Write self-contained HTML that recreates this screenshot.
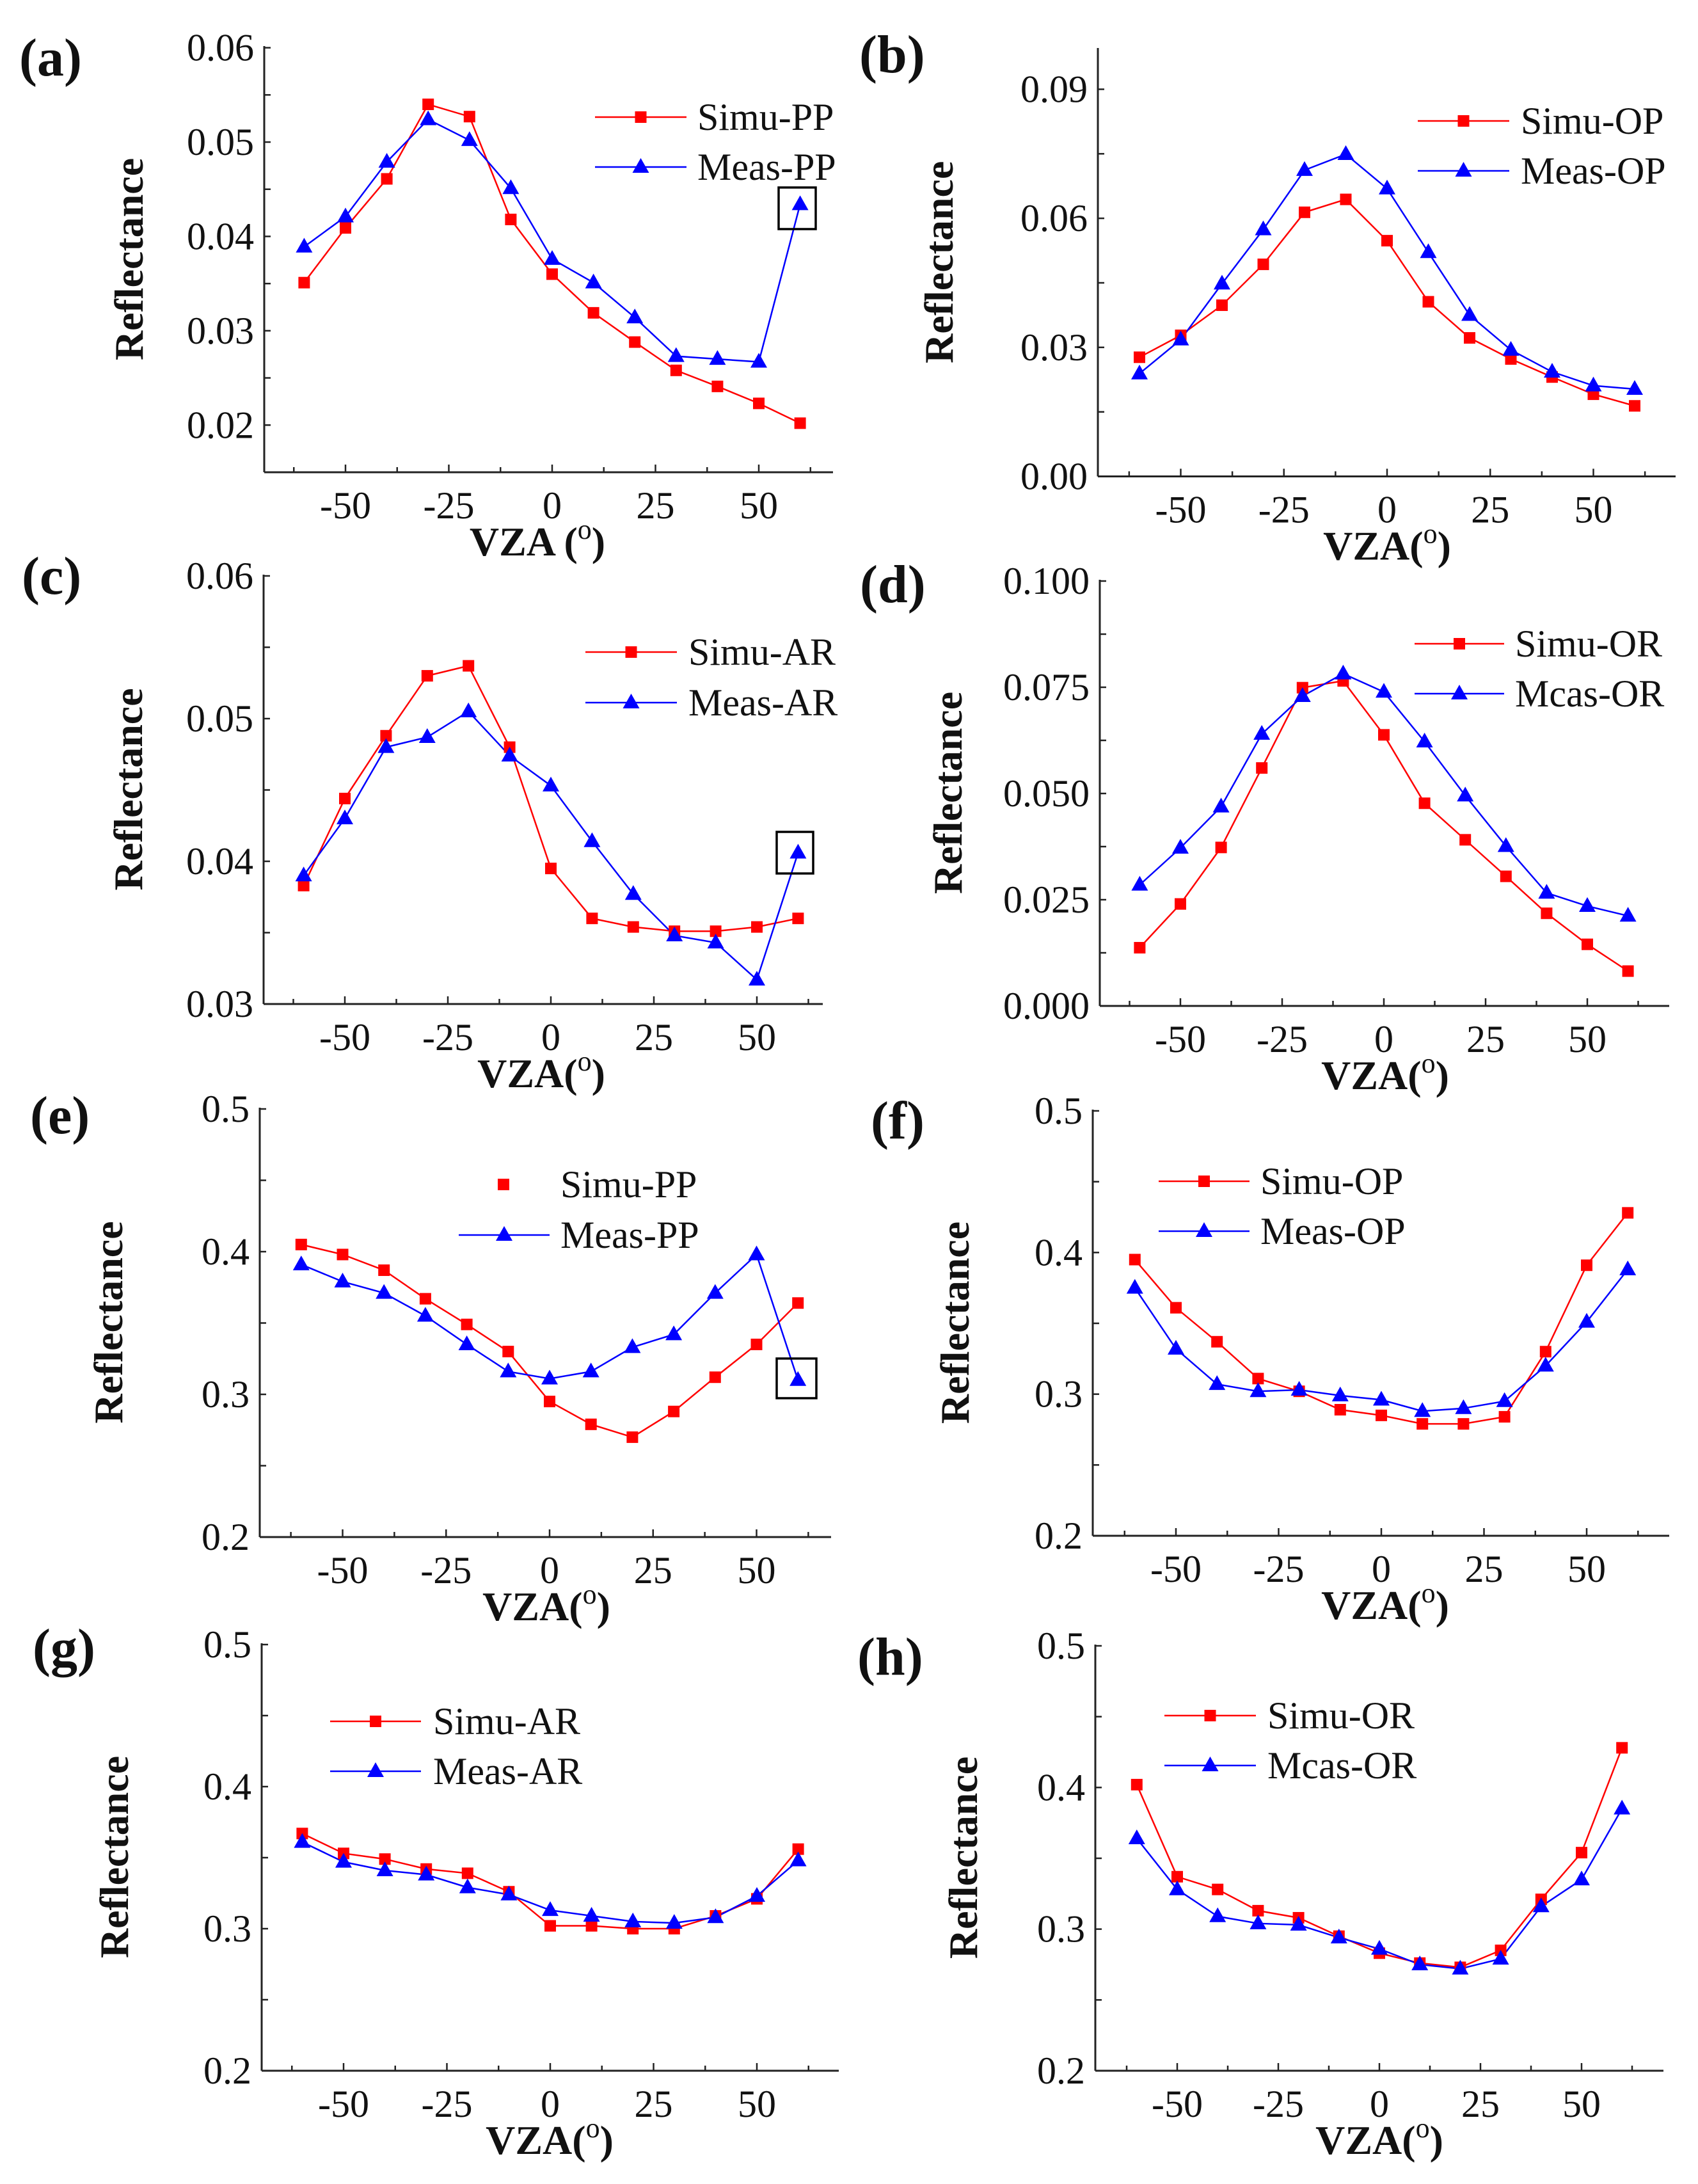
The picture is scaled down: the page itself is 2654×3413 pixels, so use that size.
<!DOCTYPE html>
<html><head><meta charset="utf-8">
<style>
html,body{margin:0;padding:0;background:#fff;}
svg{display:block;}
text{font-family:"Liberation Serif",serif;fill:#111;}
</style></head>
<body>
<svg id="chart" width="2654" height="3413" viewBox="0 0 2654 3413" xmlns="http://www.w3.org/2000/svg"></svg>
<script>
const vza = [-60,-50,-40,-30,-20,-10,0,10,20,30,40,50,60];
const xTicks = [-50,-25,0,25,50];
// panel series values
const simuA = [0.0351,0.0409,0.0461,0.0540,0.0527,0.0418,0.0360,0.0319,0.0288,0.0258,0.0241,0.0223,0.0202];
const measA = [0.0389,0.0421,0.0479,0.0524,0.0502,0.0451,0.0376,0.0351,0.0314,0.0273,0.0270,0.0267,0.0434];
const simuB = [0.0277,0.0328,0.0398,0.0493,0.0614,0.0644,0.0548,0.0406,0.0322,0.0273,0.0231,0.0191,0.0164];
const measB = [0.0239,0.0318,0.0448,0.0574,0.0712,0.0749,0.0669,0.0521,0.0375,0.0294,0.0243,0.0211,0.0203];
const simuC = [0.0383,0.0444,0.0488,0.0530,0.0537,0.0480,0.0395,0.0360,0.0354,0.0351,0.0351,0.0354,0.0360];
const measC = [0.0390,0.0430,0.0480,0.0487,0.0505,0.0474,0.0453,0.0414,0.0377,0.0348,0.0343,0.0317,0.0406];
const simuD = [0.0137,0.0240,0.0373,0.0560,0.0749,0.0765,0.0638,0.0477,0.0391,0.0305,0.0218,0.0145,0.0082];
const measD = [0.0285,0.0372,0.0469,0.0640,0.0729,0.0782,0.0739,0.0622,0.0495,0.0376,0.0266,0.0235,0.0212];
const simuE = [0.405,0.398,0.387,0.367,0.349,0.330,0.295,0.279,0.270,0.288,0.312,0.335,0.364];
const measE = [0.391,0.379,0.371,0.355,0.335,0.316,0.311,0.316,0.333,0.342,0.371,0.398,0.310];
const simuF = [0.395,0.361,0.337,0.311,0.302,0.289,0.285,0.279,0.279,0.284,0.330,0.391,0.428];
const measF = [0.375,0.332,0.307,0.302,0.303,0.299,0.296,0.288,0.290,0.295,0.320,0.351,0.388];
const simuG = [0.367,0.353,0.349,0.342,0.339,0.326,0.302,0.302,0.300,0.300,0.309,0.321,0.356];
const measG = [0.361,0.347,0.341,0.338,0.329,0.324,0.313,0.309,0.305,0.304,0.308,0.323,0.348];
const simuH = [0.402,0.337,0.328,0.313,0.308,0.295,0.283,0.276,0.273,0.285,0.321,0.354,0.428];
const measH = [0.364,0.328,0.309,0.304,0.303,0.294,0.286,0.275,0.272,0.279,0.316,0.335,0.385];
// tick labels
const yTicksA = ["0.02","0.03","0.04","0.05","0.06"];
const yTicksB = ["0.00","0.03","0.06","0.09"];
const yTicksC = ["0.03","0.04","0.05","0.06"];
const yTicksD = ["0.000","0.025","0.050","0.075","0.100"];
const yTicksE = ["0.2","0.3","0.4","0.5"];
const legendA = ["Simu-PP","Meas-PP"];
const legendB = ["Simu-OP","Meas-OP"];
const legendC = ["Simu-AR","Meas-AR"];
const legendD = ["Simu-OR","Mcas-OR"];

const panels = [
 {id:'a',simu:simuA,meas:measA,yt:yTicksA,ymin:0.015,ymax:0.06,yMinor:0.005,ax:{x0:413,x1:1302,yb:738,yt:74.6,z0:863,px50:323},yTop:72,
  leg:legendA,lg:{l0:930,l1:1073,tx:1090,y1:183,y2:261,simuLine:true},box:[1217,293,58,65],lab:[30,118],rx:201,xl:'VZA (',xlx:840},
 {id:'b',simu:simuB,meas:measB,yt:yTicksB,ymin:0,ymax:0.1,yMinor:0.015,ax:{x0:1716,x1:2619,yb:744.5,yt:139.5,ytv:0.09,z0:2168,px50:322.5},yTop:75,
  leg:legendB,lg:{l0:2216,l1:2359,tx:2377,y1:189,y2:267,simuLine:true},lab:[1343,113],rx:1467,xl:'VZA(',xlx:2168},
 {id:'c',simu:simuC,meas:measC,yt:yTicksC,ymin:0.03,ymax:0.06,yMinor:0.005,ax:{x0:412,x1:1286,yb:1569,yt:900,z0:861,px50:322},yTop:898,
  leg:legendC,lg:{l0:915,l1:1058,tx:1076,y1:1019,y2:1098,simuLine:true},box:[1214,1300,57,65],lab:[34,928],rx:200,xl:'VZA(',xlx:846},
 {id:'d',simu:simuD,meas:measD,yt:yTicksD,ymin:0,ymax:0.1,yMinor:0.0125,ax:{x0:1719,x1:2609,yb:1572,yt:908,z0:2163,px50:318},yTop:906,
  leg:legendD,lg:{l0:2211,l1:2351,tx:2368,y1:1006,y2:1084,simuLine:true},lab:[1344,941],rx:1481,xl:'VZA(',xlx:2165},
 {id:'e',simu:simuE,meas:measE,yt:yTicksE,ymin:0.2,ymax:0.5,yMinor:0.05,ax:{x0:406,x1:1299,yb:2402,yt:1733,z0:859,px50:323.5},yTop:1731,
  leg:legendA,lg:{l0:717,l1:859,tx:876,y1:1851,y2:1930,simuLine:false,sx:787},box:[1214,2123,62,62],lab:[47,1771],rx:169,xl:'VZA(',xlx:854},
 {id:'f',simu:simuF,meas:measF,yt:yTicksE,ymin:0.2,ymax:0.5,yMinor:0.05,ax:{x0:1708,x1:2609,yb:2400,yt:1736,z0:2159,px50:321},yTop:1734,
  leg:legendB,lg:{l0:1811,l1:1953,tx:1970,y1:1846,y2:1924,simuLine:true},lab:[1361,1779],rx:1492,xl:'VZA(',xlx:2165},
 {id:'g',simu:simuG,meas:measG,yt:yTicksE,ymin:0.2,ymax:0.5,yMinor:0.05,ax:{x0:409,x1:1311,yb:3236,yt:2570,z0:860,px50:323},yTop:2568,
  leg:legendC,lg:{l0:516,l1:658,tx:677,y1:2690,y2:2768,simuLine:true},lab:[51,2603],rx:178,xl:'VZA(',xlx:859},
 {id:'h',simu:simuH,meas:measH,yt:yTicksE,ymin:0.2,ymax:0.5,yMinor:0.05,ax:{x0:1712,x1:2600,yb:3236,yt:2572,z0:2156,px50:316},yTop:2570,
  leg:legendD,lg:{l0:1820,l1:1963,tx:1981,y1:2681,y2:2759,simuLine:true},lab:[1340,2617],rx:1505,xl:'VZA(',xlx:2156}
];

const NS='http://www.w3.org/2000/svg';
const svg=document.getElementById('chart');
function mk(tag,attrs,parent,txt){const e=document.createElementNS(NS,tag);for(const k in attrs)e.setAttribute(k,attrs[k]);if(txt!==undefined)e.textContent=txt;(parent||svg).appendChild(e);return e;}
function sq(g,x,y){const e=mk('rect',{x:x-9,y:y-9,width:18,height:18,fill:'#ff0000'},g);return e;}
function tri(g,x,y){const e=mk('polygon',{points:`${x},${y-14} ${x-13},${y+9} ${x+13},${y+9}`,fill:'#0000ff'},g);return e;}

panels.forEach(p=>{
  const A=p.ax;
  const topVal = A.ytv!==undefined ? A.ytv : p.ymax;
  const lowVal = p.ymin;
  const yScale=v=>A.yb-(v-lowVal)/(topVal-lowVal)*(A.yb-A.yt);
  const xScale=v=>A.z0+v/50*A.px50;
  const g=mk('g',{});
  
  
  const ya=mk('line',{x1:A.x0,y1:p.yTop,x2:A.x0,y2:A.yb,stroke:'#222','stroke-width':3},g);
  
  
  const xa=mk('line',{x1:A.x0,y1:A.yb,x2:A.x1,y2:A.yb,stroke:'#222','stroke-width':3},g);
  
  
  for(let v=-62.5;v<=62.5;v+=12.5){
    const x=xScale(v);
    if(x<=A.x0+2||x>A.x1)continue;
    mk('line',{x1:x,y1:A.yb,x2:x,y2:A.yb-(Math.abs(v%25)<0.01?12:8),stroke:'#222','stroke-width':2.5},g);
  }
  xTicks.forEach(v=>{
    const t=mk('text',{x:xScale(v),y:A.yb+72,'text-anchor':'middle','font-size':60},g,String(v));
    
    
  });
  for(let v=lowVal;v<=p.ymax+1e-9;v+=p.yMinor){
    const y=yScale(v);
    if(y<p.yTop-1)continue;
    mk('line',{x1:A.x0,y1:y,x2:A.x0+10,y2:y,stroke:'#222','stroke-width':2.5},g);
  }
  p.yt.forEach(s=>{
    const t=mk('text',{x:A.x0-16,y:yScale(parseFloat(s))+20,'text-anchor':'end','font-size':60},g,s);
    
    
  });
  const simuPts=vza.map((v,i)=>xScale(v)+','+yScale(p.simu[i])).join(' ');
  const measPts=vza.map((v,i)=>xScale(v)+','+yScale(p.meas[i])).join(' ');
  const sl=mk('polyline',{points:simuPts,fill:'none',stroke:'#ff0000','stroke-width':2.5},g);
  
  
  const ml=mk('polyline',{points:measPts,fill:'none',stroke:'#0000ff','stroke-width':2.5},g);
  
  
  vza.forEach((v,i)=>{
    const m=sq(g,xScale(v),yScale(p.simu[i]));
    
    
  });
  vza.forEach((v,i)=>{
    const m=tri(g,xScale(v),yScale(p.meas[i]));
    
    
  });
  if(p.box){
    const b=mk('rect',{x:p.box[0],y:p.box[1],width:p.box[2],height:p.box[3],fill:'none',stroke:'#000','stroke-width':3.5},g);
    
    
  }
  const L=p.lg;
  const lg=mk('g',{},g);
  
  
  const mid=(L.l0+L.l1)/2;
  if(L.simuLine){mk('line',{x1:L.l0,y1:L.y1,x2:L.l1,y2:L.y1,stroke:'#ff0000','stroke-width':2.5},lg);sq(lg,mid,L.y1);}
  else{sq(lg,L.sx,L.y1);}
  mk('line',{x1:L.l0,y1:L.y2,x2:L.l1,y2:L.y2,stroke:'#0000ff','stroke-width':2.5},lg);
  tri(lg,mid,L.y2);
  const t1=mk('text',{x:L.tx,y:L.y1+20,'font-size':60},lg,p.leg[0]);
  
  
  const t2=mk('text',{x:L.tx,y:L.y2+20,'font-size':60},lg,p.leg[1]);
  
  
  const pl=mk('text',{x:p.lab[0],y:p.lab[1],'font-size':84,'font-weight':'bold'},g,'('+p.id+')');
  
  
  const cy=(p.yTop+A.yb)/2;
  const yt=mk('text',{x:p.rx,y:cy,'font-size':64,'font-weight':'bold','text-anchor':'middle',transform:`rotate(-90 ${p.rx} ${cy}) translate(0 22)`},g,'Reflectance');
  
  
  const xt=mk('text',{x:p.xlx,y:A.yb+130,'font-size':64,'font-weight':'bold','text-anchor':'middle'},g);
  
  
  mk('tspan',{},xt,p.xl);
  mk('tspan',{dy:-26,'font-size':44,'font-weight':'normal'},xt,'o');
  mk('tspan',{dy:26},xt,')');
});
</script>
</body></html>
